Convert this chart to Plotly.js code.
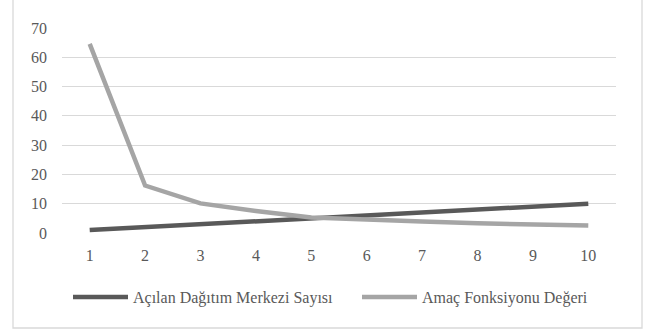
<!DOCTYPE html>
<html><head><meta charset="utf-8">
<script src="https://cdn.plot.ly/plotly-3.0.1.min.js"></script>
<style>html,body{margin:0;padding:0;background:#fff;}#c{width:646px;height:329px;}</style>
</head><body><div id="c"></div>
<script>
const categories = ['1','2','3','4','5','6','7','8','9','10'];
const seriesNames = ['Açılan Dağıtım Merkezi Sayısı', 'Amaç Fonksiyonu Değeri'];
const acilanDM = [1, 2, 3, 4, 5, 6, 7, 8, 9, 10];
const amacDegeri = [64.6, 16.2, 10.1, 7.5, 5.3, 4.5, 3.9, 3.3, 2.9, 2.6];
const yTicks = [0, 10, 20, 30, 40, 50, 60, 70];

const W = 646, H = 329;
const m = {l: 62, r: 30, t: 28, b: 96};
const pw = W - m.l - m.r, ph = H - m.t - m.b;
const px = x => (x - m.l) / pw;
const py = y => (H - m.b - y) / ph;
const font = {family: 'Liberation Serif', size: 16, color: '#595959'};

const data = [
  {x: categories, y: acilanDM, name: seriesNames[0], type: 'scatter', mode: 'lines',
   line: {color: '#595959', width: 4.5}, legend: 'legend'},
  {x: categories, y: amacDegeri, name: seriesNames[1], type: 'scatter', mode: 'lines',
   line: {color: '#a5a5a5', width: 4.5}, legend: 'legend2'}
];
const legendBase = {orientation: 'h', xanchor: 'left', y: py(297), yanchor: 'middle',
                    font: font, itemwidth: 55, bgcolor: 'rgba(0,0,0,0)'};
const layout = {
  width: W, height: H, margin: m, paper_bgcolor: '#fff', plot_bgcolor: '#fff',
  font: font, showlegend: true,
  xaxis: {type: 'category', range: [-0.5, 9.5], showgrid: false, zeroline: false,
          showline: false, ticks: '', ticklabelstandoff: 11, tickfont: font, fixedrange: true},
  yaxis: {range: [0, 70], tickvals: yTicks, showgrid: true, gridcolor: '#d9d9d9', gridwidth: 1,
          zeroline: false, showline: false, ticks: '', ticklabelstandoff: 14, tickfont: font, fixedrange: true},
  legend: Object.assign({}, legendBase, {x: px(68)}),
  legend2: Object.assign({}, legendBase, {x: px(357)}),
  shapes: [{type: 'rect', xref: 'paper', yref: 'paper', x0: px(13), x1: px(642), y0: py(328), y1: py(-2),
            line: {color: '#d9d9d9', width: 1.3}, fillcolor: 'rgba(0,0,0,0)', layer: 'below'}]
};
Plotly.newPlot('c', data, layout, {displayModeBar: false, staticPlot: true});
</script></body></html>
